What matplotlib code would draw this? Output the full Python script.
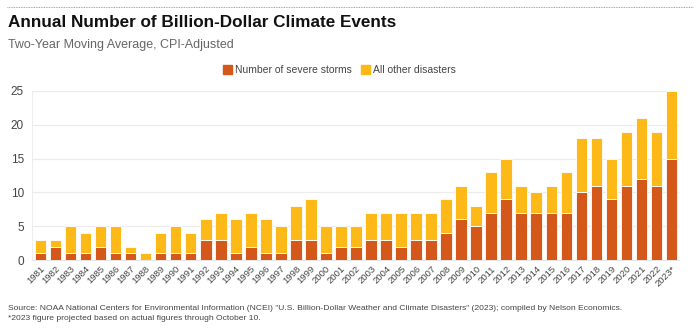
import matplotlib.pyplot as plt
from matplotlib.patches import Patch

plt.rcParams['font.family'] = ['Liberation Sans', 'DejaVu Sans']

# Data
years = [str(y) for y in range(1981, 2023)] + ["2023*"]
storms = [1, 2, 1, 1, 2, 1, 1, 0, 1, 1, 1, 3, 3, 1, 2, 1, 1, 3, 3, 1, 2, 2,
          3, 3, 2, 3, 3, 4, 6, 5, 7, 9, 7, 7, 7, 7, 10, 11, 9, 11, 12, 11, 15]
totals = [3, 3, 5, 4, 5, 5, 2, 1, 4, 5, 4, 6, 7, 6, 7, 6, 5, 8, 9, 5, 5, 5,
          7, 7, 7, 7, 7, 9, 11, 8, 13, 15, 11, 10, 11, 13, 18, 18, 15, 19, 21, 19, 25]
others = [t - s for t, s in zip(totals, storms)]

STORM_COLOR = "#D4581A"
OTHER_COLOR = "#FDB918"

fig = plt.figure(figsize=(7, 3.33), dpi=100)
ax = fig.add_axes([0.046, 0.219, 0.924, 0.508])

x = range(len(years))
ax.bar(x, storms, width=0.77, color=STORM_COLOR, edgecolor="white", linewidth=0.6, zorder=3)
ax.bar(x, others, bottom=storms, width=0.77, color=OTHER_COLOR, edgecolor="white", linewidth=0.6, zorder=3)

ax.set_ylim(0, 25)
ax.set_xlim(-0.55, len(years) - 0.5)
ax.set_yticks([0, 5, 10, 15, 20, 25])
ax.grid(axis="y", color="#ebebeb", linewidth=0.8, zorder=0)
ax.tick_params(axis="y", length=0, labelsize=8.5, labelcolor="#444444", pad=6)
ax.set_xticks(list(x))
ax.set_xticklabels(years, rotation=45, ha="right", rotation_mode="anchor",
                   fontsize=6.8, color="#444444")
ax.tick_params(axis="x", length=0, pad=3)
for side in ["top", "right", "left"]:
    ax.spines[side].set_visible(False)
ax.spines["bottom"].set_color("#e6e6e6")
ax.plot([-0.55, -0.55], [0, 25], color="#eeeeee", linewidth=0.8, clip_on=False, zorder=1)

# Header
fig.add_artist(plt.Line2D([0.01, 0.99], [0.978, 0.978], color="#888888",
                          linewidth=0.6, linestyle=(0, (1, 1))))
fig.text(0.012, 0.931, "Annual Number of Billion-Dollar Climate Events",
         fontsize=12.3, fontweight="bold", color="#111111", va="center")
fig.text(0.012, 0.866, "Two-Year Moving Average, CPI-Adjusted",
         fontsize=9, color="#666666", va="center")

handles = [Patch(color=STORM_COLOR, label="Number of severe storms"),
           Patch(color=OTHER_COLOR, label="All other disasters")]
fig.legend(handles=handles, loc="center", bbox_to_anchor=(0.485, 0.79), ncol=2,
           frameon=False, fontsize=7.5, handlelength=0.9, handleheight=1.0,
           handletextpad=0.3, columnspacing=0.8, labelcolor="#444444")

# Footer
fig.text(0.012, 0.073,
         'Source: NOAA National Centers for Environmental Information (NCEI) "U.S. Billion-Dollar Weather and Climate Disasters" (2023); compiled by Nelson Economics.',
         fontsize=6.1, color="#444444", va="center")
fig.text(0.012, 0.043, "*2023 figure projected based on actual figures through October 10.",
         fontsize=6.1, color="#444444", va="center")

fig.savefig("out.png", dpi=100, facecolor="white")
